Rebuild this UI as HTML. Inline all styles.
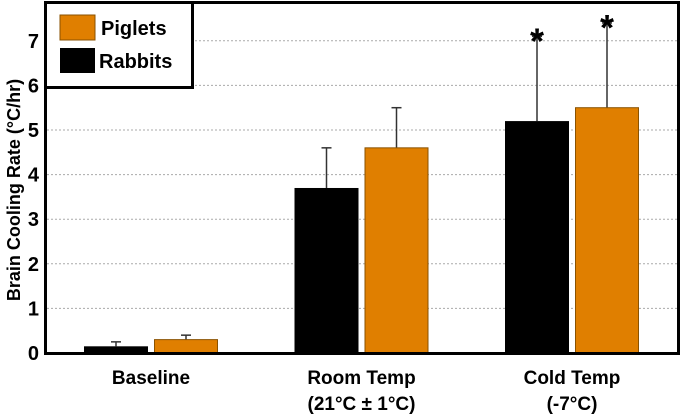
<!DOCTYPE html>
<html><head><meta charset="utf-8"><style>
html,body{margin:0;padding:0;background:#fff;}
svg{display:block;font-family:"Liberation Sans",Arial,sans-serif;}
</style></head><body>
<svg id="chart" width="685" height="417" viewBox="0 0 685 417" xmlns="http://www.w3.org/2000/svg">
<g id="grid"></g>
<g id="bars"></g>
<g id="yticks"></g>
<g id="xlabels"></g>
<rect x="45.5" y="2.5" width="633" height="351" fill="none" stroke="#000" stroke-width="3"/>
<text transform="translate(20,190) rotate(-90)" text-anchor="middle" font-size="18" font-weight="bold">Brain Cooling Rate (°C/hr)</text>
<g>
<rect x="45.5" y="2.5" width="147" height="85" fill="#fff" stroke="#000" stroke-width="3"/>
<rect x="60" y="15" width="35" height="25" fill="#E07F00" stroke="#8a5200" stroke-width="1"/>
<text x="101" y="35" font-size="20" font-weight="bold">Piglets</text>
<rect x="60" y="48" width="35" height="25" fill="#000"/>
<text x="99" y="68" font-size="20" font-weight="bold">Rabbits</text>
</g>
</svg>
<script>
const categories = ["Baseline","Room Temp","Cold Temp"];
const subLabels = ["","(21°C ± 1°C)","(-7°C)"];
const rabbits = [0.15, 3.7, 5.2];
const rabbitsErr = [0.25, 4.6, 7.1];
const piglets = [0.3, 4.6, 5.5];
const pigletsErr = [0.4, 5.5, 7.4];
const significant = [false, false, true];
const yTicks = [0,1,2,3,4,5,6,7];

const NS="http://www.w3.org/2000/svg";
const y0=353, yScale=44.6;
const y = v => y0 - v*yScale;
const groupX = i => 151 + i*210.5;
const barW=64, gap=6;
function mk(tag, attrs, parent){const e=document.createElementNS(NS,tag);for(const k in attrs)e.setAttribute(k,attrs[k]);parent.appendChild(e);return e;}
const grid=document.getElementById('grid'), bars=document.getElementById('bars'), yt=document.getElementById('yticks'), xl=document.getElementById('xlabels');
yTicks.forEach(t=>{
  if(t>0){const l=mk('line',{x1:47,x2:677,y1:y(t),y2:y(t),stroke:'#aaa','stroke-width':1,'stroke-dasharray':'2,2'},grid);
  
  }
  const tx=mk('text',{x:39,y:y(t)+7,'text-anchor':'end','font-size':20,'font-weight':'bold'},yt);
  tx.textContent=t;
  
  
});
function errBar(cx,top,val,name){
  const g=mk('g',{},bars);
  
  
  mk('line',{x1:cx,x2:cx,y1:y(val),y2:y(top),stroke:'#333','stroke-width':1.5},g);
  mk('line',{x1:cx-5,x2:cx+5,y1:y(top),y2:y(top),stroke:'#333','stroke-width':1.5},g);
}
categories.forEach((c,i)=>{
  const gx=groupX(i);
  const rx=gx-gap/2-barW, px=gx+gap/2;
  errBar(rx+barW/2,rabbitsErr[i],rabbits[i],'error-bar-rabbits-'+i);
  errBar(px+barW/2,pigletsErr[i],piglets[i],'error-bar-piglets-'+i);
  const r=mk('rect',{x:rx,y:y(rabbits[i]),width:barW,height:y0-y(rabbits[i]),fill:'#000'},bars);
  
  
  const p=mk('rect',{x:px+0.5,y:y(piglets[i]),width:barW-1,height:y0-y(piglets[i]),fill:'#E07F00',stroke:'#8a5200','stroke-width':1},bars);
  
  
  if(significant[i]){
    [[rx+barW/2,rabbitsErr[i]],[px+barW/2,pigletsErr[i]]].forEach(([cx,v],k)=>{
      const s=mk('text',{x:cx,y:y(v)+17,'text-anchor':'middle','font-size':36,'font-weight':'bold'},bars);
      s.textContent='*';
      
      
    });
  }
  const t=mk('text',{x:gx,y:384,'text-anchor':'middle','font-size':19,'font-weight':'bold'},xl);
  t.textContent=c;
  
  
  if(subLabels[i]){
    const s=mk('text',{x:gx,y:410,'text-anchor':'middle','font-size':19,'font-weight':'bold'},xl);
    s.textContent=subLabels[i];
    
    
  }
});
</script>
</body></html>
